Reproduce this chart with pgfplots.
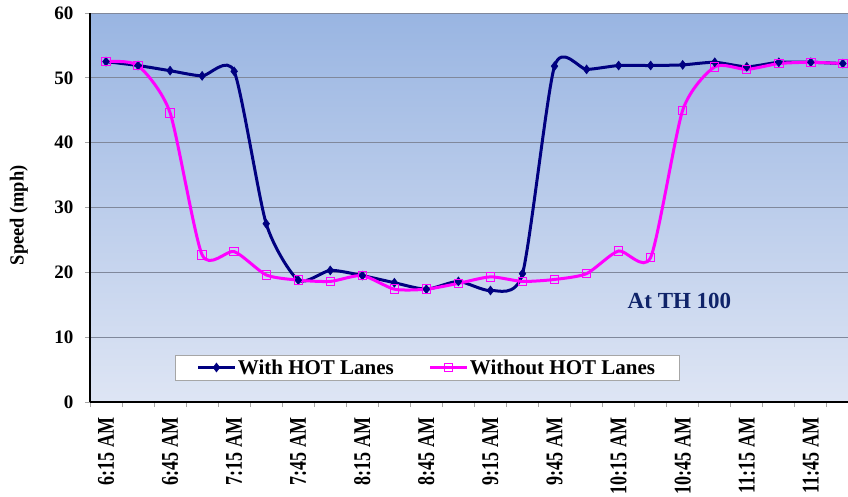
\documentclass[border=0pt]{standalone}
\usepackage{pgfplots}
\pgfplotsset{compat=1.18}
\usepackage{graphicx}
\usepackage{fontspec}
\setmainfont{Liberation Serif}

\definecolor{hotnavy}{RGB}{0,0,128}
\definecolor{nohot}{RGB}{255,0,255}
\definecolor{bgtop}{RGB}{153,181,226}
\definecolor{bgbot}{RGB}{222,229,244}
\definecolor{gridc}{RGB}{128,136,155}
\definecolor{thnavy}{RGB}{15,35,105}

\newcommand\xl[1]{\scalebox{0.75}[1]{#1}}

% speeds every 15 min, 6:15 AM .. 12:00 PM (index 0..23)
\pgfplotstableread{
x  with  without
0  52.5  52.5
1  51.9  51.9
2  51.1  44.6
3  50.3  22.7
4  51.0  23.2
5  27.5  19.6
6  18.8  18.8
7  20.3  18.6
8  19.5  19.5
9  18.4  17.4
10 17.4  17.4
11 18.6  18.3
12 17.2  19.3
13 19.8  18.6
14 51.8  18.9
15 51.3  19.8
16 51.9  23.3
17 51.9  22.3
18 52.0  45.0
19 52.4  51.7
20 51.7  51.3
21 52.4  52.2
22 52.4  52.4
23 52.2  52.2
}\speeds

\begin{document}
\begin{tikzpicture}
\begin{axis}[
  name=ax,
  scale only axis,
  width=758bp, height=389bp,
  xmin=-0.5, xmax=23.16,
  ymin=0, ymax=60,
  axis background/.style={top color=bgtop, bottom color=bgbot},
  axis x line*=bottom, axis y line*=left,
  axis line style={-, black, line width=1.5bp},
  tick align=outside,
  major tick length=5bp,
  tick style={gray!70, line width=0.8bp},
  ytick={0,10,...,60},
  ymajorgrids,
  grid style={gridc, line width=0.8bp},
  xtick={-0.5,0.5,...,22.5},
  xticklabels={},
  extra x ticks={0,2,...,22},
  extra x tick labels={\xl{6:15 AM},\xl{6:45 AM},\xl{7:15 AM},\xl{7:45 AM},\xl{8:15 AM},\xl{8:45 AM},\xl{9:15 AM},\xl{9:45 AM},\xl{10:15 AM},\xl{10:45 AM},\xl{11:15 AM},\xl{11:45 AM}},
  extra x tick style={major tick length=0pt, grid=none},
  xticklabel style={rotate=90, anchor=east, xshift=-12bp, font=\fontsize{24bp}{26bp}\selectfont\bfseries},
  yticklabel style={font=\fontsize{19bp}{21bp}\selectfont\bfseries, xshift=-8bp},
  /pgf/number format/assume math mode=true,
  ylabel={\scalebox{0.92}[1]{Speed (mph)}},
  ylabel style={at={(axis description cs:-0.094,0.48)}, anchor=center, font=\fontsize{20bp}{22bp}\selectfont\bfseries},
  legend columns=2,
  legend style={at={(axis description cs:0.4446,0.0887)}, anchor=center,
    draw=gray!70, fill=white, line width=0.8bp,
    font=\fontsize{21bp}{23bp}\selectfont\bfseries,
    inner xsep=22bp, inner ysep=2.5bp,
    /tikz/every even column/.append style={column sep=33bp}},
  legend image code/.code={\draw[mark repeat=2, mark phase=2, #1] plot coordinates {(0bp,0bp) (18bp,0bp) (36bp,0bp)};},
]
  \addplot[hotnavy, line width=3bp, smooth, tension=0.4,
    mark=diamond*, mark size=4.5bp, mark options={fill=hotnavy, line width=0.5bp}]
    table[x=x, y=with] {\speeds};
  \addlegendentry{With HOT Lanes}
  \addplot[nohot, line width=3bp, smooth, tension=0.4,
    mark=square, mark size=4.2bp, mark options={fill=none, line width=1bp}]
    table[x=x, y=without] {\speeds};
  \addlegendentry{Without HOT Lanes}
  \node[thnavy, font=\fontsize{23bp}{25bp}\selectfont\bfseries] at (axis cs:17.9,15.6) {At TH 100};
\end{axis}
\pgfresetboundingbox
\path ([shift={(-90bp,-95bp)}]ax.south west) rectangle ([shift={(0bp,13bp)}]ax.north east);
\end{tikzpicture}
\end{document}
